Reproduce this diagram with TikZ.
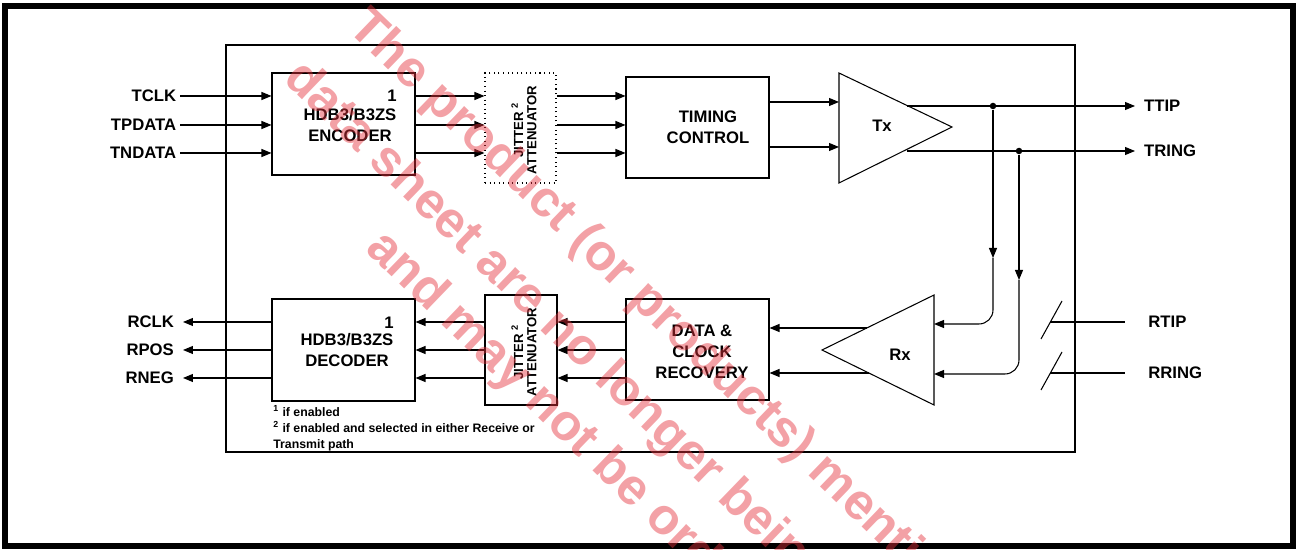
\documentclass[tikz,border=0pt]{standalone}
\usepackage{fontspec}
\setmainfont{Liberation Sans}
\usetikzlibrary{arrows.meta}

\definecolor{wmred}{RGB}{228,50,60}

\begin{document}
\begin{tikzpicture}[x=0.02cm,y=-0.02cm,
        ln/.style={line width=0.6pt},
        arr/.style={line width=0.6pt,-{Triangle[length=0.2cm,width=0.16cm]}},
        blk/.style={draw,line width=0.6pt,minimum width=2.86cm,minimum height=2.04cm,inner sep=0pt},
        jit/.style={draw,line width=0.6pt,minimum width=1.42cm,minimum height=2.2cm,inner sep=0pt},
        txt/.style={font=\bfseries\fontsize{9.5}{12}\selectfont,align=center,inner sep=0pt},
        vtxt/.style={font=\bfseries\fontsize{7.5}{7.6}\selectfont,align=center,inner sep=0pt,rotate=90},
        lblin/.style={font=\bfseries\fontsize{9.5}{12}\selectfont,inner sep=0pt,inner xsep=2pt,anchor=east},
        lblout/.style={font=\bfseries\fontsize{9.5}{12}\selectfont,inner sep=0pt,inner xsep=5pt,anchor=west},
        dot/.style={circle,fill,inner sep=0pt,minimum size=0.13cm},
        wm/.style={font=\bfseries\fontsize{29}{29}\selectfont,text=wmred,text opacity=0.46,inner sep=0pt,rotate=-44,anchor=base west}]

        \useasboundingbox (0,0) rectangle (1299,550);
        \draw[line width=0.12cm] (5,6) rectangle (1293,546);
        \draw[ln] (226,45) rectangle (1075,452);

        % transmit side
        \node[blk] (enc) at (343.5,124) {};
        \node[txt] at (350,125) {HDB3/B3ZS\\ENCODER};
        \node[txt] at (392,96) {1};
        \node[jit,dotted] (jt) at (520.5,128) {};
        \node[vtxt] at (524,130) {JITTER \textsuperscript{2}\\ATTENUATOR};
        \node[blk,minimum height=2.02cm] (tim) at (697.5,127.5) {};
        \node[txt] at (708,127) {TIMING\\CONTROL};

        \node[lblin] (tclk) at (180,96) {TCLK};
        \node[lblin] (tpdata) at (180,125) {TPDATA};
        \node[lblin] (tndata) at (180,153) {TNDATA};

        \foreach \s in {tclk,tpdata,tndata} {
            \draw[arr] (\s.east) -- (\s.east -| enc.west);
            \draw[arr] (\s.east -| enc.east) -- (\s.east -| jt.west);
            \draw[arr] (\s.east -| jt.east) -- (\s.east -| tim.west);
        }

        \coordinate (tx1) at (839,73);
        \coordinate (tx2) at (952,127);
        \coordinate (tx3) at (839,183);
        \draw[ln] (tx1) -- (tx2) -- (tx3) -- cycle;
        \node[txt] (txl) at (882,126) {Tx};
        \coordinate (txi1) at (839,102);
        \coordinate (txi2) at (839,147);
        \draw[arr] (tim.east |- txi1) -- (txi1);
        \draw[arr] (tim.east |- txi2) -- (txi2);

        \coordinate (txo1) at (907,106);
        \coordinate (txo2) at (907,151);
        \node[lblout] (ttip) at (1135,106) {TTIP};
        \node[lblout] (tring) at (1135,151) {TRING};
        \draw[arr] (txo1) -- (ttip.west);
        \draw[arr] (txo2) -- (tring.west);
        \node[dot] (j1) at (993,106) {};
        \node[dot] (j2) at (1019,151) {};

        % receive side
        \coordinate (rx1) at (934,295);
        \coordinate (rx2) at (822,350);
        \coordinate (rx3) at (934,405);
        \draw[ln] (rx1) -- (rx2) -- (rx3) -- cycle;
        \node[txt] (rxl) at (900,355) {Rx};

        \coordinate (m1) at (993,258);
        \coordinate (m2) at (1019,280);
        \coordinate (rxi1) at (934,324);
        \coordinate (rxi2) at (934,374);
        \draw[arr] (j1) -- (m1);
        \draw[arr] (j2) -- (m2);
        \draw[arr,rounded corners=8pt] (m1) |- (rxi1);
        \draw[arr,rounded corners=8pt] (m2) |- (rxi2);

        \node[blk,minimum height=2.02cm] (dcr) at (697.5,349.5) {};
        \node[txt] at (702,352) {DATA \&\\CLOCK\\RECOVERY};
        \coordinate (rxo1) at (867,328);
        \coordinate (rxo2) at (869,373);
        \draw[arr] (rxo1) -- (rxo1 -| dcr.east);
        \draw[arr] (rxo2) -- (rxo2 -| dcr.east);

        \coordinate (rt) at (1050,322);
        \coordinate (rr) at (1050,373);
        \node[lblout,inner xsep=0pt] (rtip) at (1148,322) {RTIP};
        \node[lblout,inner xsep=0pt] (rring) at (1148,373) {RRING};
        \draw[ln] (rt) -- ([xshift=-13]rtip.west);
        \draw[ln] (rr) -- ([xshift=-13]rring.west);
        \draw[ln] ([shift={(-9,17)}]rt) -- ([shift={(12,-21)}]rt);
        \draw[ln] ([shift={(-9,17)}]rr) -- ([shift={(12,-21)}]rr);

        \node[jit,minimum width=1.44cm] (jb) at (521,350) {};
        \node[vtxt] at (524,352) {JITTER \textsuperscript{2}\\ATTENUATOR};
        \node[blk] (dec) at (343.5,350) {};
        \node[txt] at (347,350) {HDB3/B3ZS\\DECODER};
        \node[txt] at (389,323) {1};

        \node[lblin,inner xsep=5pt] (rclk) at (183,322) {RCLK};
        \node[lblin,inner xsep=5pt] (rpos) at (183,350) {RPOS};
        \node[lblin,inner xsep=5pt] (rneg) at (183,378) {RNEG};

        \foreach \s in {rclk,rpos,rneg} {
            \draw[arr] (\s.east -| dcr.west) -- (\s.east -| jb.east);
            \draw[arr] (\s.east -| jb.west) -- (\s.east -| dec.east);
            \draw[arr] (\s.east -| dec.west) -- (\s.east);
        }

        \node[font=\bfseries\fontsize{7}{9}\selectfont,align=left,anchor=north west,inner sep=0pt] (notes) at (273,405)
            {\textsuperscript{1} if enabled\\\textsuperscript{2} if enabled and selected in either Receive or\\Transmit path};

        % watermark
        \begin{scope}
            \clip (0,0) rectangle (1299,550);
            \node[wm] (wm1) at (346,29) {The product (or products) mentioned in this};
            \node[wm] (wm2) at (282,80) {data sheet are no longer being manufactured};
            \node[wm] (wm3) at (364,250) {and may not be ordered};
        \end{scope}
    \end{tikzpicture}
\end{document}
